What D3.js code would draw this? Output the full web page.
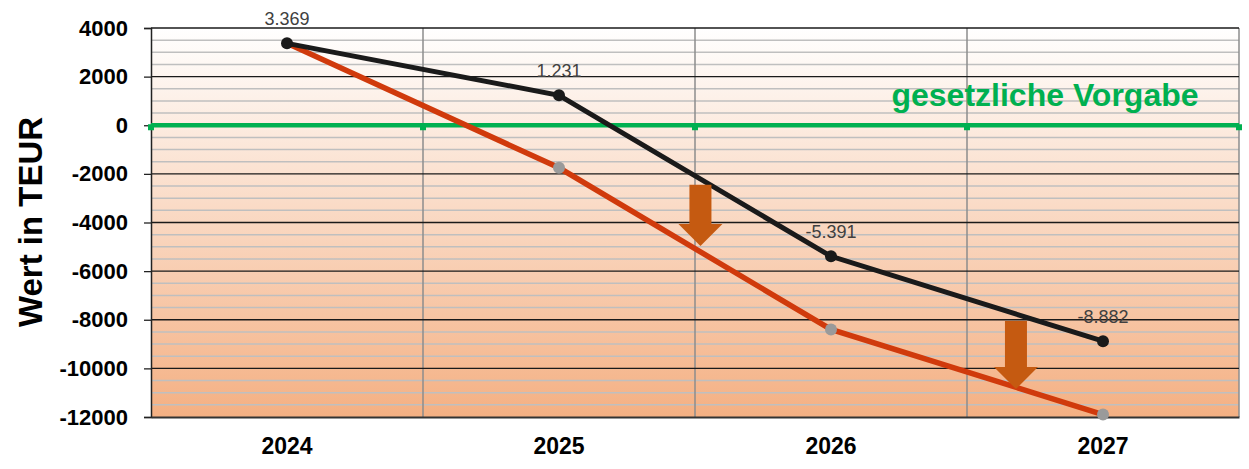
<!DOCTYPE html>
<html>
<head>
<meta charset="utf-8">
<script src="https://cdn.jsdelivr.net/npm/d3@7"></script>
<style>
  body { margin: 0; background: #fff; }
  svg { display: block; font-family: "Liberation Sans", Arial, sans-serif; }
</style>
</head>
<body>
<svg id="chart" width="1249" height="469"></svg>
<script>
// data
var years = ["2024", "2025", "2026", "2027"];
var ist = [3369, 1231, -5391, -8882];
var prognose = [3369, -1750, -8400, -11900];
var istLabels = ["3.369", "1.231", "-5.391", "-8.882"];
var yTicks = [4000, 2000, 0, -2000, -4000, -6000, -8000, -10000, -12000];
var vorgabe = 0;
// arrows: position in bands, from value, to value
var arrows = [
  { pos: 2.02, from: -2450, to: -4970 },
  { pos: 3.18, from: -8050, to: -10850 }
];

var svg = d3.select("#chart");
var m = { left: 151, right: 10, top: 28, bottom: 52 };
var width = 1249, height = 469;

var x = d3.scaleBand().domain(years).range([m.left, width - m.right]);
var xPos = d3.scaleLinear().domain([0, 4]).range([m.left, width - m.right]);
var y = d3.scaleLinear().domain([-12000, 4000]).range([height - m.bottom, m.top]);

var defs = svg.append("defs");
var grad = defs.append("linearGradient").attr("id", "bg")
  .attr("x1", 0).attr("y1", 0).attr("x2", 0).attr("y2", 1);
grad.append("stop").attr("offset", "0%").attr("stop-color", "#ffffff");
grad.append("stop").attr("offset", "100%").attr("stop-color", "#f4b083");

svg.append("rect")
  .attr("x", m.left).attr("y", y(4000))
  .attr("width", xPos(4) - xPos(0)).attr("height", y(-12000) - y(4000))
  .attr("fill", "url(#bg)");

// minor grid every 500
var minor = d3.range(-12000, 4001, 500).filter(function(v){ return v % 2000 != 0; });
svg.append("g").selectAll("line").data(minor).enter().append("line")
  .attr("x1", m.left).attr("x2", xPos(4))
  .attr("y1", function(d){ return y(d); }).attr("y2", function(d){ return y(d); })
  .attr("stroke", "#bfbfbf").attr("stroke-width", 1.5);

// vertical grid at band boundaries
svg.append("g").selectAll("line").data([1, 2, 3, 4]).enter().append("line")
  .attr("x1", function(d){ return xPos(d); }).attr("x2", function(d){ return xPos(d); })
  .attr("y1", y(4000)).attr("y2", y(-12000))
  .attr("stroke", "#8c8c8c").attr("stroke-width", 1.5);

// major grid
svg.append("g").selectAll("line").data(yTicks.filter(function(d){ return d > -12000; })).enter().append("line")
  .attr("x1", m.left).attr("x2", xPos(4))
  .attr("y1", function(d){ return y(d); }).attr("y2", function(d){ return y(d); })
  .attr("stroke", "#1a1a1a").attr("stroke-width", 1.3);

// y axis
var yAxis = svg.append("g").attr("transform", "translate(" + m.left + ",0)")
  .call(d3.axisLeft(y).tickValues(yTicks).tickSize(7).tickPadding(16)
    .tickFormat(function(d){ return String(d); }));
yAxis.select(".domain").attr("stroke", "#222").attr("stroke-width", 1.5);
yAxis.selectAll(".tick line").attr("stroke", "#222").attr("stroke-width", 1.3);
yAxis.selectAll("text").attr("font-size", 22).attr("font-weight", "bold").attr("fill", "#000")
  .attr("font-family", "'Liberation Sans', Arial, sans-serif");

// x axis
var xAxis = svg.append("g").attr("transform", "translate(0," + y(-12000) + ")")
  .call(d3.axisBottom(x).tickSize(0).tickPadding(21));
xAxis.select(".domain").attr("stroke", "#333").attr("stroke-width", 2);
xAxis.selectAll("text").attr("font-size", 23).attr("font-weight", "bold").attr("fill", "#000")
  .attr("font-family", "'Liberation Sans', Arial, sans-serif");

svg.append("text")
  .attr("transform", "translate(42,222) rotate(-90)")
  .attr("text-anchor", "middle")
  .attr("font-size", 33).attr("font-weight", "bold")
  .text("Wert in TEUR");

// legal requirement line
svg.append("line")
  .attr("x1", m.left).attr("x2", xPos(4))
  .attr("y1", y(vorgabe)).attr("y2", y(vorgabe))
  .attr("stroke", "#00b050").attr("stroke-width", 4.5);
svg.append("g").selectAll("rect").data([0, 1, 2, 3, 4]).enter().append("rect")
  .attr("x", function(d){ return xPos(d) - 3; })
  .attr("y", y(vorgabe) - 1)
  .attr("width", 6).attr("height", 6)
  .attr("fill", "#00b050");
svg.append("text")
  .attr("x", 1045).attr("y", y(vorgabe) - 19)
  .attr("text-anchor", "middle")
  .attr("font-size", 32).attr("font-weight", "bold").attr("fill", "#00b050")
  .text("gesetzliche Vorgabe");

var line = d3.line()
  .x(function(d, i){ return x(years[i]) + x.bandwidth() / 2; })
  .y(function(d){ return y(d); });

// forecast (red)
svg.append("path").datum(prognose)
  .attr("d", line).attr("fill", "none")
  .attr("stroke", "#d03a0c").attr("stroke-width", 5.5);
svg.append("g").selectAll("circle").data(prognose.slice(1)).enter().append("circle")
  .attr("cx", function(d, i){ return x(years[i + 1]) + x.bandwidth() / 2; })
  .attr("cy", function(d){ return y(d); })
  .attr("r", 6).attr("fill", "#9a9a9a");

// actual (black)
svg.append("path").datum(ist)
  .attr("d", line).attr("fill", "none")
  .attr("stroke", "#1a1a1a").attr("stroke-width", 5);
svg.append("g").selectAll("circle").data(ist).enter().append("circle")
  .attr("cx", function(d, i){ return x(years[i]) + x.bandwidth() / 2; })
  .attr("cy", function(d){ return y(d); })
  .attr("r", 6).attr("fill", "#1a1a1a");
svg.append("g").selectAll("text").data(ist).enter().append("text")
  .attr("x", function(d, i){ return x(years[i]) + x.bandwidth() / 2; })
  .attr("y", function(d){ return y(d) - 18; })
  .attr("text-anchor", "middle")
  .attr("font-size", 18).attr("fill", "#404040")
  .text(function(d, i){ return istLabels[i]; });

// arrows
arrows.forEach(function(a){
  var cx = xPos(a.pos), top = y(a.from), tip = y(a.to);
  var headTop = tip - 22, sw = 11, hw = 22;
  var pts = [[cx - sw, top], [cx + sw, top], [cx + sw, headTop], [cx + hw, headTop],
             [cx, tip], [cx - hw, headTop], [cx - sw, headTop]];
  svg.append("path")
    .attr("d", "M" + pts.join("L") + "Z")
    .attr("fill", "#c55a11");
});
</script>
</body>
</html>
